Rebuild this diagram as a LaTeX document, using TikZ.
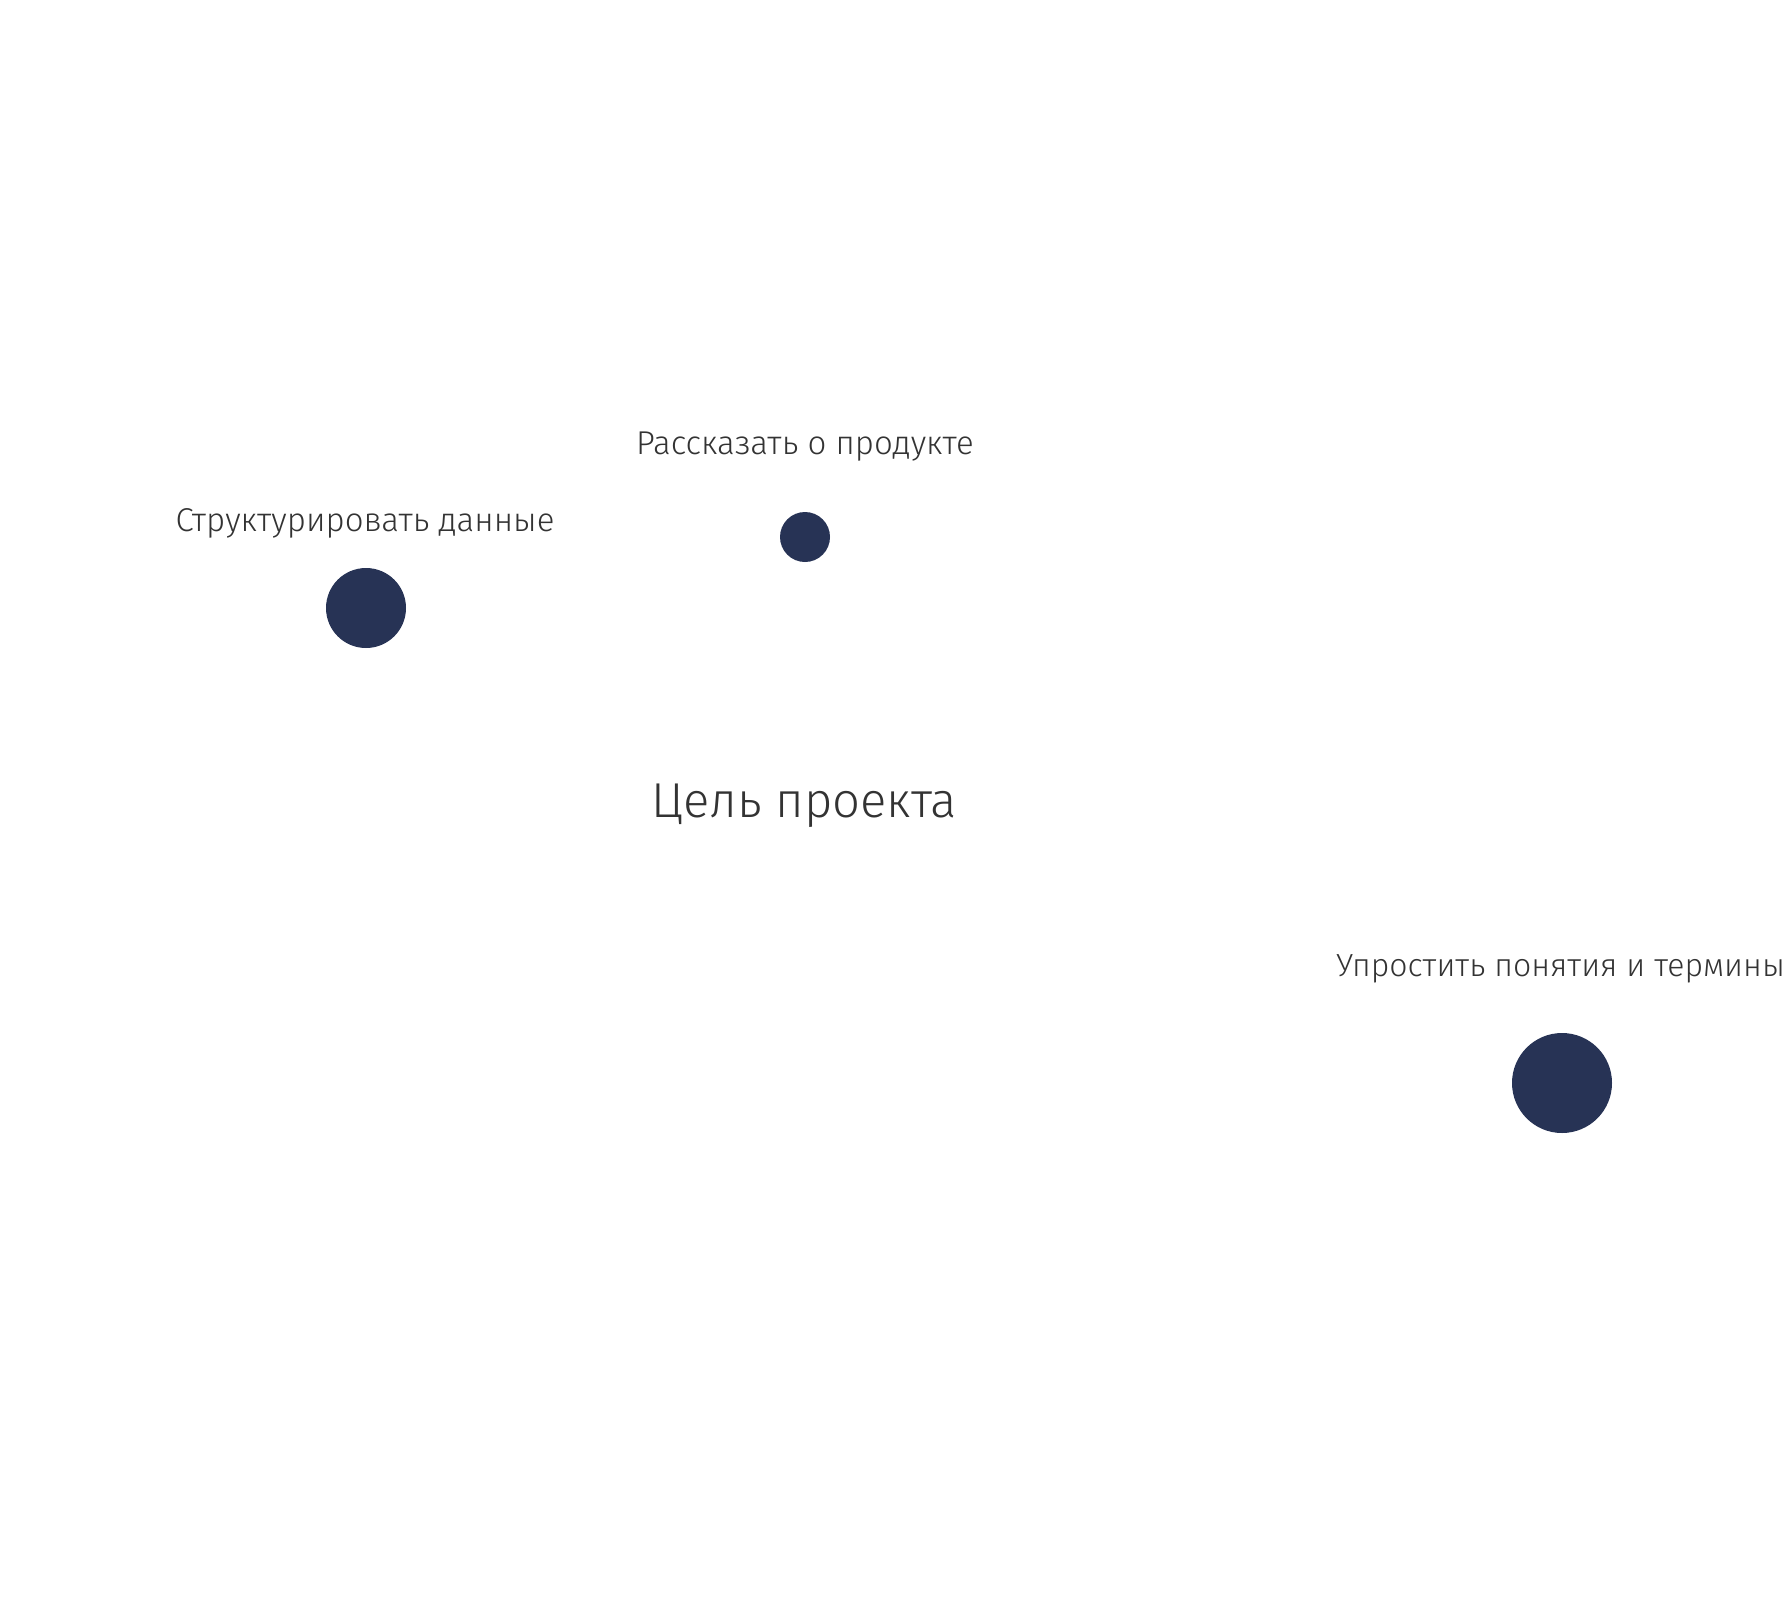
\documentclass[tikz,border=0pt]{standalone}
\usepackage{fontspec}
\setmainfont{Fira Sans Light}
\usepackage{xcolor}
\usetikzlibrary{positioning}

\definecolor{dotblue}{HTML}{273355}
\definecolor{textgrey}{HTML}{333333}

\begin{document}
\begin{tikzpicture}[x=1pt,y=-1pt,
    goal/.style={circle,fill=dotblue,inner sep=0pt},
    lbl/.style={text=textgrey,font=\fontsize{33}{38}\selectfont,inner sep=0pt},
    title/.style={text=textgrey,font=\fontsize{49}{56}\selectfont,inner sep=0pt}]

    \useasboundingbox (0,0) rectangle (1788,1608);

    % The title
    \node [title] at (804,806) (T) {Цель проекта};

    % The goals
    \node [goal,minimum size=80pt] at (366,608) (S) {};
    \node [goal,minimum size=50pt] at (805,537) (R) {};
    \node [goal,minimum size=100pt] at (1562,1083) (U) {};

    % Goal labels
    \node [lbl] at (365,523) (Sl) {Структурировать данные};
    \node [lbl] at (805,447) (Rl) {Рассказать о продукте};
    \node [lbl,anchor=east,font=\fontsize{32}{37}\selectfont] at (1785,969) (Ul) {Упростить понятия и термины};

\end{tikzpicture}
\end{document}
